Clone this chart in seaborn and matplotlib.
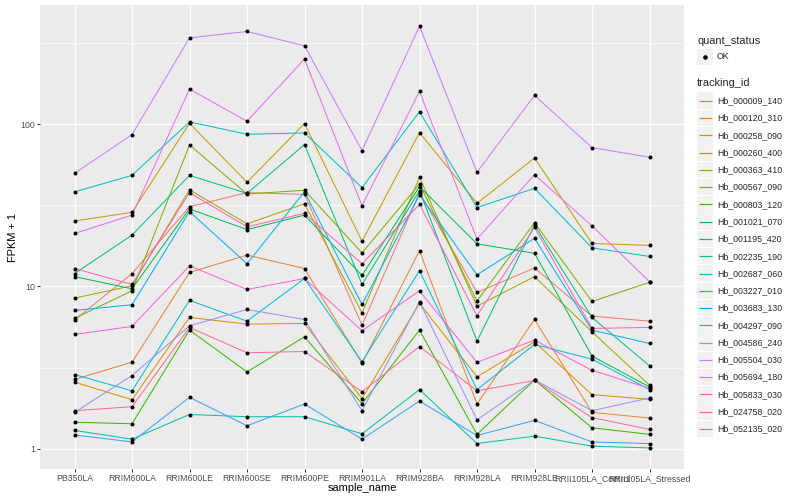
import matplotlib
matplotlib.use("Agg")
import matplotlib.pyplot as plt
from matplotlib.patches import Rectangle
import seaborn as sns
import pandas as pd

# samples along the x axis, in plot order
samples = ["PB350LA", "RRIM600LA", "RRIM600LE", "RRIM600SE", "RRIM600PE", "RRIM901LA",
           "RRIM928BA", "RRIM928LA", "RRIM928LE", "RRII105LA_Control", "RRII105LA_Stressed"]

tracking_ids = ["Hb_000009_140", "Hb_000120_310", "Hb_000258_090", "Hb_000260_400",
                "Hb_000363_410", "Hb_000567_090", "Hb_000803_120", "Hb_001021_070",
                "Hb_001195_420", "Hb_002235_190", "Hb_002687_060", "Hb_003227_010",
                "Hb_003683_130", "Hb_004297_090", "Hb_004586_240", "Hb_005504_030",
                "Hb_005694_180", "Hb_005833_030", "Hb_024758_020", "Hb_052135_020"]

# FPKM + 1 for each gene, one value per sample
hb_000009_140 = [6.21, 12.0, 31.0, 37.8, 36.9, 5.78, 37.8, 9.19, 13.0, 6.57, 6.12]
hb_000120_310 = [2.68, 3.42, 12.2, 15.6, 12.9, 3.36, 16.6, 1.89, 6.27, 1.68, 1.55]
hb_000258_090 = [2.58, 2.01, 6.45, 5.87, 5.92, 2.04, 7.87, 2.78, 4.56, 2.16, 2.02]
hb_000260_400 = [25.3, 28.6, 101, 43.8, 100.6, 19.0, 88.5, 32.5, 61.8, 18.4, 17.9]
hb_000363_410 = [8.48, 10.1, 39.4, 24.3, 32.3, 6.89, 47.0, 7.57, 11.5, 5.26, 2.47]
hb_000567_090 = [6.36, 9.41, 74.3, 37.1, 39.1, 16.1, 42.7, 8.13, 24.7, 8.09, 10.6]
hb_000803_120 = [1.46, 1.43, 5.39, 2.98, 4.90, 1.90, 5.39, 1.23, 2.66, 1.35, 1.23]
hb_001021_070 = [11.5, 9.68, 30.0, 22.4, 27.5, 11.7, 41.2, 18.3, 16.0, 3.73, 2.41]
hb_001195_420 = [12.0, 20.7, 48.3, 37.4, 74.7, 10.3, 38.9, 4.61, 23.9, 6.45, 3.25]
hb_002235_190 = [1.30, 1.15, 1.63, 1.58, 1.58, 1.24, 2.32, 1.08, 1.20, 1.04, 1.015]
hb_002687_060 = [38.2, 48.3, 103, 86.5, 88.1, 40.6, 119, 30.6, 40.2, 17.3, 15.3]
hb_003227_010 = [2.87, 2.28, 8.21, 6.12, 11.2, 3.44, 12.5, 2.32, 4.40, 3.57, 2.32]
hb_003683_130 = [7.12, 7.72, 28.9, 13.8, 38.3, 7.75, 36.6, 11.8, 19.8, 5.39, 4.46]
hb_004297_090 = [1.22, 1.105, 2.08, 1.39, 1.89, 1.15, 1.97, 1.21, 1.50, 1.105, 1.08]
hb_004586_240 = [1.68, 2.83, 5.73, 7.22, 6.27, 1.72, 8.05, 1.51, 2.66, 1.72, 2.06]
hb_005504_030 = [49.7, 86.1, 339, 371, 303, 68.6, 400, 50.5, 150, 71.6, 62.4]
hb_005694_180 = [21.2, 27.5, 164, 104, 251, 31.4, 159, 19.6, 48.8, 23.6, 10.7]
hb_005833_030 = [5.07, 5.68, 13.4, 9.59, 11.2, 5.34, 9.41, 3.41, 4.68, 3.05, 2.36]
hb_024758_020 = [12.9, 10.3, 37.8, 23.3, 28.2, 13.8, 32.0, 6.60, 23.1, 5.52, 5.60]
hb_052135_020 = [1.72, 1.82, 5.60, 3.91, 3.98, 2.25, 4.27, 2.28, 2.64, 1.56, 1.32]

series = [hb_000009_140, hb_000120_310, hb_000258_090, hb_000260_400, hb_000363_410,
          hb_000567_090, hb_000803_120, hb_001021_070, hb_001195_420, hb_002235_190,
          hb_002687_060, hb_003227_010, hb_003683_130, hb_004297_090, hb_004586_240,
          hb_005504_030, hb_005694_180, hb_005833_030, hb_024758_020, hb_052135_020]

# ggplot2 default hue palette for 20 levels
colors = ["#F8766D", "#EA8331", "#D89000", "#C09B00", "#A3A500", "#7CAE00", "#39B600",
          "#00BB4E", "#00BF7D", "#00C1A3", "#00BFC4", "#00BAE0", "#00B0F6", "#35A2FF",
          "#9590FF", "#C77CFF", "#E76BF3", "#FA62DB", "#FF62BC", "#FF6C91"]

rows = []
for tid, vals in zip(tracking_ids, series):
    for i, (s, v) in enumerate(zip(samples, vals)):
        rows.append({"tracking_id": tid, "sample_name": s, "pos": i, "fpkm1": v})
df = pd.DataFrame(rows)

sns.set_theme(style="darkgrid")
plt.rcParams["font.family"] = ["Liberation Sans", "DejaVu Sans"]

fig = plt.figure(figsize=(800 / 72, 500 / 72), dpi=72)
ax = fig.add_axes([40 / 800, 1 - 469 / 500, 644 / 800, 464 / 500])
ax.set_facecolor("#EBEBEB")

sns.lineplot(data=df, x="pos", y="fpkm1", hue="tracking_id", hue_order=tracking_ids,
             palette=colors, estimator=None, sort=False, linewidth=1.0, legend=False, ax=ax)
sns.scatterplot(data=df, x="pos", y="fpkm1", color="black", s=16, linewidth=0,
                legend=False, zorder=3, ax=ax)

ax.set_yscale("log")
ax.set_ylim(0.753, 540)
ax.set_xlim(-0.6, len(samples) - 0.4)
ax.set_yticks([1, 10, 100])
ax.set_yticklabels(["1", "10", "100"])
ax.set_yticks([10 ** 0.5, 10 ** 1.5, 10 ** 2.5], minor=True)
ax.set_xticks(range(len(samples)))
ax.set_xticklabels(samples)
ax.grid(which="major", color="white", linewidth=1.3)
ax.grid(which="minor", axis="y", color="white", linewidth=0.6)
ax.grid(which="minor", axis="x", visible=False)
ax.set_axisbelow(True)
for sp in ax.spines.values():
    sp.set_visible(False)
ax.tick_params(which="major", length=3, width=1, color="#333333", labelcolor="#4D4D4D",
               labelsize=8.8, pad=2, left=True, bottom=True)
ax.tick_params(which="minor", length=0)

ax.set_xlabel("sample_name", fontsize=11, color="black")
ax.set_ylabel("FPKM + 1", fontsize=11, color="black")
ax.xaxis.set_label_coords(0.5, (469 - 488) / 464)
ax.xaxis.label.set_va("center")
ax.yaxis.set_label_coords((13 - 40) / 644, 0.5)
ax.yaxis.label.set_rotation_mode("default")
ax.yaxis.label.set_va("center")
ax.yaxis.label.set_ha("center")

# legends drawn ggplot-style in a pixel-coordinate side panel
lax = fig.add_axes([690 / 800, 0, 110 / 800, 1])
lax.set_xlim(690, 800)
lax.set_ylim(500, 0)
lax.axis("off")

lax.text(697, 40.7, "quant_status", fontsize=11, va="center", ha="left")
lax.add_patch(Rectangle((697, 48.5), 16, 16.5, color="#F2F2F2", lw=0, zorder=1))
lax.plot([705], [56.7], "o", color="black", markersize=3.5, zorder=3)
lax.text(717, 56.7, "OK", fontsize=8.8, va="center", ha="left")

lax.text(697, 83, "tracking_id", fontsize=11, va="center", ha="left")
for i, (tid, c) in enumerate(zip(tracking_ids, colors)):
    yy = 100.7 + i * 17.28
    lax.add_patch(Rectangle((697, yy - 8.25), 16, 16.5, color="#F2F2F2", lw=0, zorder=1))
    lax.plot([698.5, 711.5], [yy, yy], color=c, linewidth=1.2, zorder=3,
             solid_capstyle="butt")
    lax.text(717, yy, tid, fontsize=8.8, va="center", ha="left")

fig.savefig("out.png", dpi=72, facecolor="white")
